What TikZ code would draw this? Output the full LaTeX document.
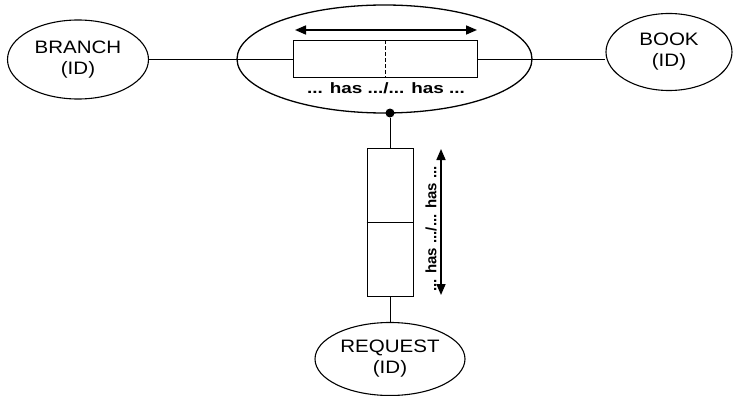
\documentclass[tikz,border=0pt]{standalone}
\usepackage{fontspec}
\setmainfont{Liberation Sans}
\newfontfamily\widefont[FakeStretch=1.14]{Liberation Sans}
\newfontfamily\widerfont[FakeStretch=1.26]{Liberation Sans}
\usetikzlibrary{shapes.geometric,arrows.meta}
\begin{document}
\begin{tikzpicture}[x=1pt,y=-1pt,
  entity/.style={draw,ellipse,line width=1.1pt,inner sep=0pt,font=\widefont\fontsize{18}{21}\selectfont,align=center},
  box/.style={draw,line width=1pt,inner sep=0pt},
  conn/.style={line width=0.8pt},
  dbl/.style={line width=1.6pt,{Triangle[length=11pt,width=9pt]}-{Triangle[length=11pt,width=9pt]}},
  hastext/.style={font=\bfseries\fontsize{15}{17}\selectfont,inner sep=0pt}]
\useasboundingbox (0,0) rectangle (734,396);
% entities
\node[entity,minimum width=141pt,minimum height=79pt] (branch) at (78,59.5) {BRANCH\\(ID)};
\node[entity,minimum width=126pt,minimum height=77pt] (book) at (669,52) {BOOK\\(ID)};
\node[entity,minimum width=150pt,minimum height=73pt] (request) at (390,359) {REQUEST\\(ID)};
% relationship ellipse
\node[draw,ellipse,line width=1.3pt,minimum width=295pt,minimum height=108pt] (rel) at (384.5,59) {};
% horizontal box
\node[box,minimum width=184pt,minimum height=37pt] (hrect) at (385,59.5) {};
\draw[line width=0.9pt,dash pattern=on 4pt off 2pt] (hrect.north) -- (hrect.south);
\coordinate (ha) at (295,30);
\coordinate (hb) at (477,30);
\draw[dbl] (ha) -- (hb);
\node[hastext,font=\widerfont\bfseries\fontsize{15}{17}\selectfont] (htext) at (386,88) {... has .../... has ...};
% connectors
\draw[conn] (branch) -- (hrect);
\draw[conn] (hrect) -- (book.west |- hrect.east);
% dot
\node[circle,fill,inner sep=0pt,minimum size=9pt] (dot) at (390,113) {};
% vertical box
\node[box,minimum width=46pt,minimum height=148pt] (vrect) at (390,222) {};
\draw[line width=0.9pt] (vrect.west) -- (vrect.east);
\draw[conn] (dot) -- (vrect);
\draw[conn] (vrect) -- (request);
\coordinate (va) at (441,149);
\coordinate (vb) at (441,295);
\draw[dbl] (va) -- (vb);
\node[hastext,rotate=90] (vtext) at (431,229) {... has .../... has ...};
\end{tikzpicture}
\end{document}
